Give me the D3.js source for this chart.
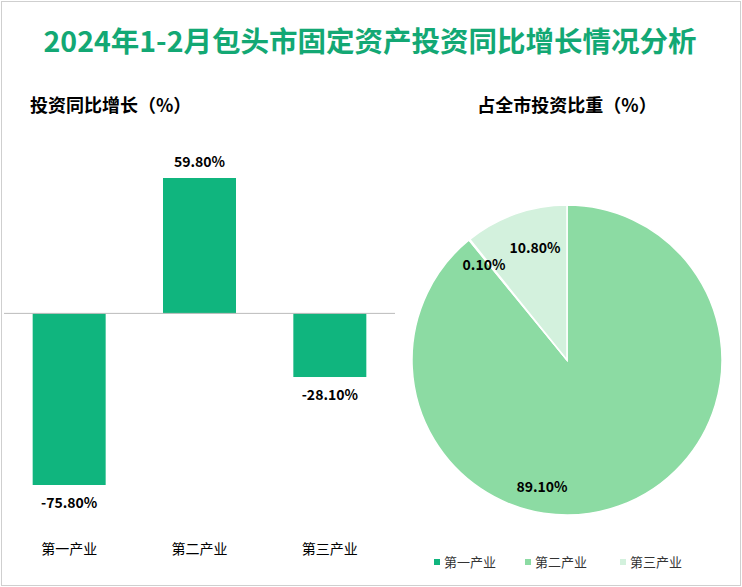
<!DOCTYPE html>
<html><head><meta charset="utf-8">
<script src="https://cdn.jsdelivr.net/npm/d3@7"></script>
<style>body{margin:0;background:#fff;font-family:"Noto Sans CJK SC","Noto Sans",sans-serif}</style>
</head><body><svg id="c" width="742" height="587"></svg>
<script>
const categories = ['第一产业', '第二产业', '第三产业'];
const growth = [-75.8, 59.8, -28.1];
const share = [0.1, 89.1, 10.8];
const pieOrder = [1, 0, 2]; // clockwise from top
const colors = ['#10b57e', '#8cdba3', '#d3f1dd'];

const svg = d3.select('#c');
svg.append('rect').attr('x', 1.5).attr('y', 1.5).attr('width', 739).attr('height', 584)
  .attr('fill', 'none').attr('stroke', '#cfcfcf');

svg.append('text').attr('x', 370).attr('y', 52).attr('text-anchor', 'middle')
  .attr('font-size', 28.5).attr('font-weight', 'bold').attr('fill', '#13a874')
  .text('2024年1-2月包头市固定资产投资同比增长情况分析');

svg.append('text').attr('x', 30).attr('y', 112).attr('font-size', 18).attr('font-weight', 'bold')
  .text('投资同比增长（%）');
svg.append('text').attr('x', 567).attr('y', 112).attr('text-anchor', 'middle')
  .attr('font-size', 18).attr('font-weight', 'bold').text('占全市投资比重（%）');

// bar chart
const x = d3.scaleBand().domain(categories).range([4, 395]).paddingInner(0.44).paddingOuter(0.22);
const y = d3.scaleLinear().domain([-75.8, 59.8]).range([485, 178]);

svg.selectAll('.bar').data(growth).enter().append('rect')
  .attr('x', (d, i) => x(categories[i]))
  .attr('width', x.bandwidth())
  .attr('y', d => Math.min(y(d), y(0)))
  .attr('height', d => Math.abs(y(d) - y(0)))
  .attr('fill', colors[0]);

svg.append('line').attr('x1', 4).attr('x2', 395).attr('y1', y(0)).attr('y2', y(0))
  .attr('stroke', '#bbb');

svg.selectAll('.bl').data(growth).enter().append('text')
  .attr('x', (d, i) => x(categories[i]) + x.bandwidth() / 2)
  .attr('y', d => d >= 0 ? y(d) - 11 : y(d) + 23)
  .attr('text-anchor', 'middle').attr('font-size', 14).attr('font-weight', 'bold')
  .text(d => d.toFixed(2) + '%');

svg.selectAll('.cl').data(categories).enter().append('text')
  .attr('x', d => x(d) + x.bandwidth() / 2).attr('y', 554)
  .attr('text-anchor', 'middle').attr('font-size', 14).text(d => d);

// pie
const cx = 567, cy = 360, r = 155;
const pieData = pieOrder.map(i => ({ i, v: share[i] }));
const arcs = d3.pie().sort(null).value(d => d.v)(pieData);
const arc = d3.arc().innerRadius(0).outerRadius(r);
const g = svg.append('g').attr('transform', `translate(${cx},${cy})`);
g.selectAll('path').data(arcs).enter().append('path')
  .attr('d', arc).attr('fill', d => colors[d.data.i]).attr('stroke', '#fff').attr('stroke-width', 1.5);

// label offsets relative to the pie centre
const labelAt = { 0: [-83, -95], 1: [-25, 127], 2: [-32, -112] };
g.selectAll('.pl').data(arcs).enter().append('text')
  .attr('transform', d => `translate(${labelAt[d.data.i]})`)
  .attr('text-anchor', 'middle').attr('dy', '0.35em')
  .attr('font-size', 14).attr('font-weight', 'bold')
  .text(d => d.data.v.toFixed(2) + '%');

// legend
const lx = [440, 531, 626];
categories.forEach((c, i) => {
  svg.append('rect').attr('x', lx[i] - 6).attr('y', 559).attr('width', 6).attr('height', 6).attr('fill', colors[i]);
  svg.append('text').attr('x', lx[i] + 4).attr('y', 567).attr('font-size', 13).attr('fill', '#333').text(c);
});
</script></body></html>
